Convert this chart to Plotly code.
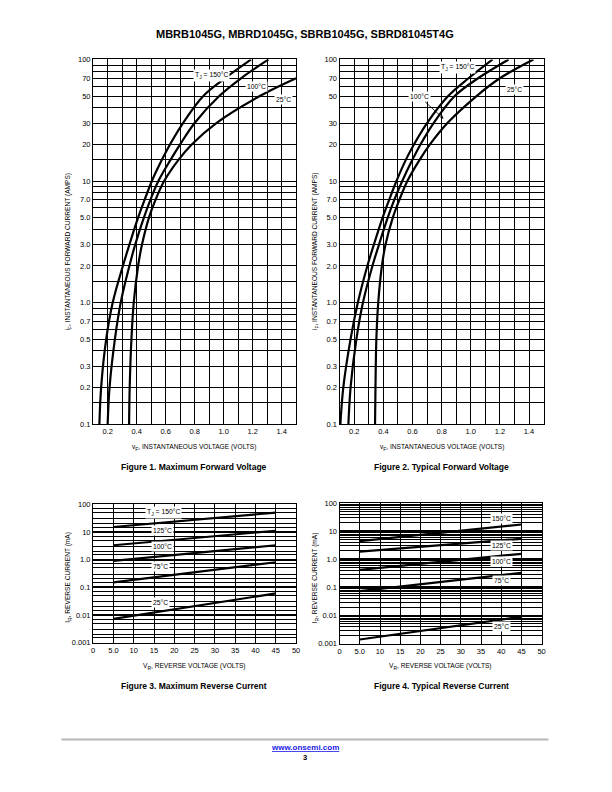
import plotly.graph_objects as go

# The page body has an 8 px margin on every side; the figure is sized so the
# page never overflows the 612x792 window, and page coordinates are shifted.
OFF = 8
W, H = 612 - 2 * OFF, 792 - 2 * OFF
FONT = "Liberation Sans Narrow, Liberation Sans, Arial, sans-serif"
FONT_R = "Liberation Sans, Arial, sans-serif"

# ---------------- Figure 1: Maximum forward voltage ----------------
fig1_current = [0.1, 0.2, 0.5, 1, 2, 3, 5, 7, 10, 15, 20, 30, 50, 70, 100]
fig1_v150 = [0.143, 0.155, 0.19, 0.235, 0.305, 0.35, 0.41, 0.455, 0.505, 0.575, 0.63, 0.72, 0.86, 1.01, 1.19]
fig1_v100 = [0.2, 0.213, 0.25, 0.29, 0.35, 0.39, 0.45, 0.495, 0.55, 0.635, 0.7, 0.8, 0.97, 1.12, 1.31]
fig1_current25 = [0.1, 0.2, 0.5, 1, 2, 3, 5, 7, 10, 15, 20, 30, 50, 70]
fig1_v25 = [0.348, 0.352, 0.364, 0.38, 0.41, 0.437, 0.485, 0.53, 0.59, 0.69, 0.78, 0.95, 1.25, 1.5]

# ---------------- Figure 2: Typical forward voltage ----------------
fig2_current = [0.1, 0.2, 0.5, 1, 2, 3, 5, 7, 10, 15, 20, 30, 50, 70, 100]
fig2_v150 = [0.105, 0.125, 0.175, 0.225, 0.29, 0.335, 0.395, 0.44, 0.49, 0.555, 0.61, 0.7, 0.845, 0.985, 1.15]
fig2_v100 = [0.16, 0.175, 0.215, 0.26, 0.325, 0.37, 0.43, 0.475, 0.53, 0.6, 0.655, 0.745, 0.89, 1.05, 1.26]
fig2_v25 = [0.343, 0.346, 0.352, 0.365, 0.39, 0.415, 0.465, 0.51, 0.565, 0.65, 0.72, 0.84, 1.04, 1.2, 1.43]

# ---------------- Figure 3 / 4: Reverse current ----------------
vr = [5, 45]
fig3_i150 = [15, 50]
fig3_i125 = [3.3, 11]
fig3_i100 = [0.9, 3.3]
fig3_i75 = [0.15, 0.8]
fig3_i25 = [0.0072, 0.06]

fig4_i150 = [4.5, 17.5]
fig4_i125 = [1.9, 5.4]
fig4_i100 = [0.42, 1.58]
fig4_i75 = [0.074, 0.33]
fig4_i25 = [0.0014, 0.009]

# ---------------- ticks ----------------
vf_ticks = [0.2, 0.4, 0.6, 0.8, 1.0, 1.2, 1.4]
vf_text = ["0.2", "0.4", "0.6", "0.8", "1.0", "1.2", "1.4"]
vf_minor = [0.1, 0.3, 0.5, 0.7, 0.9, 1.1, 1.3, 1.5]
if_ticks = [0.1, 0.2, 0.3, 0.5, 0.7, 1, 2, 3, 5, 7, 10, 20, 30, 50, 70, 100]
if_text = ["0.1", "0.2", "0.3", "0.5", "0.7", "1.0", "2.0", "3.0", "5.0", "7.0",
           "10", "20", "30", "50", "70", "100"]
if_minor = [0.15, 0.4, 0.6, 0.8, 0.9, 1.5, 4, 6, 8, 9, 15, 40, 60, 80, 90]

vr_ticks = [0, 5, 10, 15, 20, 25, 30, 35, 40, 45, 50]
vr_text = ["0", "5.0", "10", "15", "20", "25", "30", "35", "40", "45", "50"]
ir_ticks = [0.001, 0.01, 0.1, 1, 10, 100]
ir_text = ["0.001", "0.01", "0.1", "1.0", "10", "100"]
ir_minor3 = [m * d for d in [0.001, 0.01, 0.1, 1, 10] for m in [1.5, 2, 3, 5, 7]]
ir_minor4 = [m * d for d in [0.001, 0.01, 0.1, 1, 10] for m in [2, 3, 4, 5, 6, 7, 8, 9]]


def px(x):
    return (x - OFF) / W


def py(y):
    return 1 - (y - OFF) / H


def sub(s, size=5):
    return "<span style='font-size:%gpx;baseline-shift:-1.6px'>%s</span>" % (size, s)


fig = go.Figure()

line = dict(color="black", width=2.2, shape="spline", smoothing=1.0)
line_s = dict(color="black", width=2.2)

for v in (fig1_v150, fig1_v100):
    fig.add_trace(go.Scatter(x=v, y=fig1_current, mode="lines", line=line, xaxis="x", yaxis="y"))
fig.add_trace(go.Scatter(x=fig1_v25, y=fig1_current25, mode="lines", line=line, xaxis="x", yaxis="y"))

for v in (fig2_v150, fig2_v100, fig2_v25):
    fig.add_trace(go.Scatter(x=v, y=fig2_current, mode="lines", line=line, xaxis="x2", yaxis="y2"))

for i in (fig3_i150, fig3_i125, fig3_i100, fig3_i75, fig3_i25):
    fig.add_trace(go.Scatter(x=vr, y=i, mode="lines", line=line_s, xaxis="x3", yaxis="y3"))

for i in (fig4_i150, fig4_i125, fig4_i100, fig4_i75, fig4_i25):
    fig.add_trace(go.Scatter(x=vr, y=i, mode="lines", line=line_s, xaxis="x4", yaxis="y4"))

tickfont = dict(family=FONT, size=7.5, color="black")
common = dict(showline=True, mirror=True, linecolor="black", linewidth=1.3,
              showgrid=True, gridcolor="black", gridwidth=1, zeroline=False,
              ticks="", tickfont=tickfont, fixedrange=True)
minor_grid = dict(showgrid=True, gridcolor="black", gridwidth=1, ticks="")


def vf_axis(dom, anchor):
    return dict(common, domain=[px(dom[0]), px(dom[1])], anchor=anchor, range=[0.1, 1.5],
                tickmode="array", tickvals=vf_ticks, ticktext=vf_text,
                minor=dict(minor_grid, tickmode="array", tickvals=vf_minor))


def if_axis(dom, anchor):
    return dict(common, type="log", domain=[py(dom[1]), py(dom[0])], anchor=anchor, range=[-1, 2],
                tickmode="array", tickvals=if_ticks, ticktext=if_text,
                minor=dict(minor_grid, tickmode="array", tickvals=if_minor))


def vr_axis(dom, anchor):
    return dict(common, domain=[px(dom[0]), px(dom[1])], anchor=anchor, range=[0, 50],
                tickmode="array", tickvals=vr_ticks, ticktext=vr_text)


def ir_axis(dom, anchor, minor, gw):
    return dict(common, type="log", domain=[py(dom[1]), py(dom[0])], anchor=anchor, range=[-3, 2],
                tickmode="array", tickvals=ir_ticks, ticktext=ir_text, gridwidth=gw,
                minor=dict(minor_grid, tickmode="array", tickvals=minor))


F1X, F1Y = (92, 297), (56, 425)
F2X, F2Y = (341, 547), (56, 425)
F3X, F3Y = (92, 297), (506, 646)
F4X, F4Y = (341, 545), (505, 647)

fig.update_layout(
    width=W, height=H, margin=dict(l=0, r=0, t=0, b=0),
    paper_bgcolor="white", plot_bgcolor="white", showlegend=False,
    xaxis=vf_axis(F1X, "y"), yaxis=if_axis(F1Y, "x"),
    xaxis2=vf_axis(F2X, "y2"), yaxis2=if_axis(F2Y, "x2"),
    xaxis3=vr_axis(F3X, "y3"), yaxis3=ir_axis(F3Y, "x3", ir_minor3, 1.8),
    xaxis4=vr_axis(F4X, "y4"), yaxis4=ir_axis(F4Y, "x4", ir_minor4, 2.4),
)

ann = []


def text(x, y, t, size=7, bold=False, family=FONT_R, angle=0, bg=None, color="black", **kw):
    d = dict(x=px(x), y=py(y), xref="paper", yref="paper", showarrow=False,
             text=("<b>%s</b>" % t) if bold else t, textangle=angle,
             font=dict(family=family, size=size, color=color),
             xanchor="center", yanchor="middle")
    if bg:
        d.update(bgcolor=bg, borderpad=1)
    d.update(kw)
    ann.append(d)


# page title
text(306, 30, "MBRB1045G, MBRD1045G, SBRB1045G, SBRD81045T4G", size=11, bold=True)

# axis titles
for cx in (194, 444):
    text(cx, 449, "v" + sub("F") + ", INSTANTANEOUS VOLTAGE (VOLTS)", size=6.6)
for x in (67, 316):
    text(x, 250, "i" + sub("F") + ", INSTANTANEOUS FORWARD CURRENT (AMPS)", size=6.6, angle=-90)
for cx in (194, 443):
    text(cx, 670, "V" + sub("R") + ", REVERSE VOLTAGE (VOLTS)", size=6.6)
for x in (67, 316):
    text(x, 580, "I" + sub("R") + ", REVERSE CURRENT (mA)", size=6.6, angle=-90)

# captions
text(194, 468, "Figure 1. Maximum Forward Voltage", size=8.5, bold=True)
text(444, 468, "Figure 2. Typical Forward Voltage", size=8.5, bold=True)
text(194, 690, "Figure 3. Maximum Reverse Current", size=8.5, bold=True)
text(444, 690, "Figure 4. Typical Reverse Current", size=8.5, bold=True)

TJ150 = "T" + sub("J") + " = 150°C"

# curve labels fig 1
text(212, 72, TJ150, size=6.8, family=FONT, bg="white")
text(257, 83, "100°C", size=6.8, family=FONT, bg="white")
text(284, 97, "25°C", size=6.8, family=FONT, bg="white")

# curve labels fig 2
text(460, 64, TJ150, size=6.8, family=FONT, bg="white")
text(518, 86, "25°C", size=6.8, family=FONT, bg="white")
ann.append(dict(x=px(446), y=py(116), xref="paper", yref="paper", ax=-24, ay=-22,
                axref="pixel", ayref="pixel", showarrow=True, arrowhead=2, arrowsize=0.8,
                arrowwidth=0.8, arrowcolor="black", text="100°C", bgcolor="white", borderpad=1,
                font=dict(family=FONT, size=6.8, color="black")))

# curve labels fig 3
text(163, 514, TJ150, size=6.8, family=FONT, bg="white")
text(162, 533, "125°C", size=6.8, family=FONT, bg="white")
text(162, 549, "100°C", size=6.8, family=FONT, bg="white")
text(160, 569, "75°C", size=6.8, family=FONT, bg="white")
text(160, 605, "25°C", size=6.8, family=FONT, bg="white")

# curve labels fig 4
text(505, 520, "150°C", size=6.8, family=FONT, bg="white")
text(505, 548, "125°C", size=6.8, family=FONT, bg="white")
text(505, 564, "100°C", size=6.8, family=FONT, bg="white")
text(505, 583, "75°C", size=6.8, family=FONT, bg="white")
text(505, 630, "25°C", size=6.8, family=FONT, bg="white")

# footer
text(306, 752, "<span style='text-decoration:underline'>www.onsemi.com</span>", size=8, bold=True,
     color="#1a1ae6")
text(306, 762, "3", size=7.5, bold=True)

fig.update_layout(annotations=ann, shapes=[
    dict(type="line", xref="paper", yref="paper", x0=px(60), x1=px(552), y0=py(744), y1=py(744),
         line=dict(color="#b8b8b8", width=2))
])

fig.write_html("out.html")
